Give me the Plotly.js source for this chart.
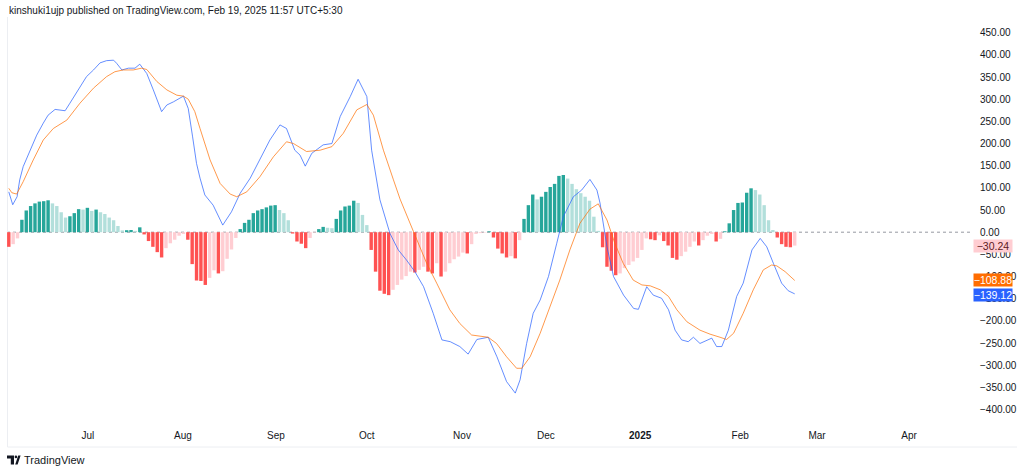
<!DOCTYPE html>
<html>
<head>
<meta charset="utf-8">
<script src="https://cdn.plot.ly/plotly-3.0.1.min.js"></script>
<style>
  html, body { margin: 0; padding: 0; background: #ffffff; }
  #chart { width: 1024px; height: 472px; }
</style>
</head>
<body>
<div id="chart"></div>
<script>
// ---- Data (daily bars, index 0 = first bar) ----
const histogram = [
  -33, -27, -14, 28, 49, 59, 65, 69, 70, 72,
  65, 59, 45, 33, 36, 43, 52, 51, 55, 48,
  51, 45, 41, 33, 27, 14, 4, 4.5, 5, 3,
  11, -5, -20, -33, -45, -57, -36, -25, -17, -8,
  -4, -17, -72, -109, -110, -119, -103, -86, -93, -88,
  -60, -39, -13, 7, 21, 28, 43, 49, 52, 56,
  60, 61, 50, 43, 27, -3, -21, -26, -36, -13,
  -1, 7, 12, 10, 9, 30, 49, 58, 60, 71,
  66, 39, 16, -40, -89, -132, -139, -142, -130, -119,
  -107, -99, -89, -91, -85, -78, -89, -93, -70, -100,
  -89, -70, -61, -55, -46, -48, -27, -4, -2, -1,
  2, -12, -37, -48, -57, -54, -59, -18, 30, 61,
  85, 74, 80, 91, 102, 109, 127, 129, 121, 109,
  97, 88, 80, 71, 35, 3, -34, -78, -87, -97,
  -93, -81, -74, -66, -58, -40, -14, -16, -18, -7,
  -20, -30, -58, -62, -54, -44, -33, -21, -30, -18,
  -8, -4, -21, -15, 2, 20, 50, 66, 67, 89,
  99, 95, 85, 61, 27, 5, -12, -27, -33, -34,
  -30.24
];

const macdX = [0, 0.9, 1.9, 2.5, 3.3, 4.9, 6.4, 7.9, 9.0, 10.6, 12.9, 14.0, 15.9, 17.8, 19.4, 20.9, 22.4, 24.0, 24.7, 25.9,
  27.4, 28.9, 30.0, 31.6, 33.1, 35.0, 36.2, 37.7, 40.0, 41.1, 42.1, 43.0, 43.8, 44.9, 46.8, 49.0, 51.0, 53.0, 55.3, 57.5,
  59.8, 62.1, 63.6, 65.5, 66.7, 67.9, 69.4, 72.0, 74.0, 75.9, 78.2, 80.0, 82.0, 83.1, 85.0, 87.3, 89.2, 91.1, 93.0, 95.0,
  97.2, 99.2, 101.1, 103.3, 105.2, 107.2, 109.8, 111.8, 114.0, 116.0, 117.1, 118.6, 120.1, 121.7, 123.6, 125.5, 127.0, 129.3, 131.2, 133.1,
  134.7, 135.4, 137.0, 138.5, 140.8, 143.1, 144.2, 146.1, 147.6, 149.5, 151.1, 152.6, 154.1, 155.6, 156.8, 158.3, 159.8, 161.0, 162.1, 163.3,
  164.8, 166.7, 168.2, 170.2, 172.1, 173.6, 175.1, 177.0, 178.5, 180];
const macdY = [91, 62, 80, 118, 148, 185, 219, 246, 264, 277, 274, 291, 322, 351, 366, 382, 387, 388, 381, 366,
  370, 370, 379, 358, 321, 272, 287, 294, 307, 279, 215, 155, 122, 84, 61, 16, 46, 88, 122, 163,
  208, 242, 234, 185, 174, 149, 178, 197, 200, 261, 306, 345, 306, 185, 73, -3, -40, -63, -89, -123,
  -183, -243, -247, -258, -275, -242, -237, -281, -337, -363, -333, -251, -183, -153, -100, -25, 35, 80, 95, 119,
  95, 66, -33, -100, -142, -172, -174, -123, -142, -149, -175, -221, -243, -247, -237, -251, -245, -239, -258, -258,
  -221, -145, -115, -40, -14, -33, -70, -115, -132, -139.12];

const signalX = [0, 0.7, 1.8, 3.3, 5.6, 7.9, 10.2, 13.3, 16.3, 19.4, 22.4, 24.3, 26.2, 28.5, 30.4, 31.6, 33.9, 36.2, 38.5, 40.0,
  41.1, 42.6, 43.8, 46.1, 48.4, 50.7, 52.2, 54.5, 57.5, 60.6, 63.6, 65.2, 68.2, 71.3, 74.0, 76.6, 79.7, 82.0, 83.5, 85.8,
  88.1, 89.6, 92.7, 95.7, 98.0, 101.0, 103.3, 106.0, 109.8, 111.7, 114.0, 116.3, 117.5, 119.4, 121.7, 124.0, 126.2, 128.5, 130.8, 133.1,
  135.0, 137.0, 138.8, 140.7, 143.0, 145.0, 146.9, 149.2, 151.1, 153.0, 155.3, 158.3, 160.6, 162.9, 164.4, 166.0, 168.2, 170.5, 172.8, 174.7,
  175.9, 177.8, 180];
const signalY = [99, 89, 86, 114, 163, 208, 234, 253, 291, 325, 351, 362, 366, 366, 370, 367, 340, 321, 309, 307,
  300, 272, 234, 163, 110, 86, 80, 91, 125, 170, 204, 200, 182, 185, 193, 223, 276, 288, 264, 185,
  118, 75, 1, -70, -115, -175, -206, -232, -237, -251, -281, -307, -307, -281, -228, -168, -108, -40, 20, 52,
  64, 27.5, -25, -70, -108, -119, -121, -130, -145, -175, -202, -221, -230, -237, -242, -228, -183, -130, -85, -74,
  -76, -89, -108.88];

const tickPositions = [18.1, 39.9, 61.2, 82.0, 103.8, 123.0, 144.6, 167.5, 185.1, 206.2];
const tickLabels = ["Jul", "Aug", "Sep", "Oct", "Nov", "Dec", "<b>2025</b>", "Feb", "Mar", "Apr"];

const lastValues = { hist: -30.24, signal: -108.88, macd: -139.12 };

// ---- Styling ----
const FONT = "'Liberation Sans Narrow', 'Arial Narrow', 'Liberation Sans', Arial, sans-serif";
const TEXT = "#131722";

function barColor(v, prev) {
  if (v >= 0) return v >= prev ? "#26A69A" : "#B2DFDB";
  return v >= prev ? "#FFCDD2" : "#FF5252";
}
const barColors = histogram.map((v, i) => barColor(v, i === 0 ? Infinity : histogram[i - 1]));

const traces = [
  {
    type: "bar",
    x: histogram.map((_, i) => i),
    y: histogram,
    width: 0.78,
    marker: { color: barColors, line: { width: 0 } },
    hoverinfo: "skip"
  },
  {
    type: "scatter", mode: "lines",
    x: macdX, y: macdY,
    line: { color: "#2962FF", width: 1 },
    opacity: 0.72,
    hoverinfo: "skip"
  },
  {
    type: "scatter", mode: "lines",
    x: signalX, y: signalY,
    line: { color: "#FF6D00", width: 1 },
    opacity: 0.7,
    hoverinfo: "skip"
  }
];

// pixel -> paper helpers (plot area: x 7..972, y 20..424)
const PL = 7, PR = 972, PT = 20, PB = 424;
const px = (x) => (x - PL) / (PR - PL);
const py = (y) => (PB - y) / (PB - PT);

const logoPath =
  `M ${px(7)} ${py(455.5)} L ${px(14)} ${py(455.5)} L ${px(14)} ${py(464.5)} L ${px(10.8)} ${py(464.5)} ` +
  `L ${px(10.8)} ${py(458.6)} L ${px(7)} ${py(458.6)} Z ` +
  `M ${px(15.2)} ${py(464.5)} L ${px(17.6)} ${py(464.5)} L ${px(20.6)} ${py(455.5)} L ${px(18.2)} ${py(455.5)} Z`;

function priceLabel(value, bg, color, yshift) {
  return {
    xref: "paper", yref: "y", x: 1, xshift: 1, y: value, yshift: yshift || 0,
    xanchor: "left", yanchor: "middle", showarrow: false,
    text: "\u2212" + Math.abs(value).toFixed(2),
    bgcolor: bg, borderpad: 0, width: 38, height: 12, align: "center", valign: "middle",
    font: { family: FONT, size: 10.5, color: color }
  };
}

const layout = {
  width: 1024, height: 472,
  margin: { l: PL, r: 1024 - PR, t: PT, b: 472 - PB, pad: 0 },
  paper_bgcolor: "#ffffff",
  plot_bgcolor: "#ffffff",
  showlegend: false,
  font: { family: FONT, size: 10, color: TEXT },
  xaxis: {
    range: [-0.41, 220.6],
    tickmode: "array", tickvals: tickPositions, ticktext: tickLabels,
    showgrid: false, zeroline: false, showline: false, ticks: "",
    tickfont: { family: FONT, size: 10, color: TEXT },
    ticklabelstandoff: 4,
    fixedrange: true
  },
  yaxis: {
    side: "right",
    range: [-432.7, 478.7],
    tick0: 0, dtick: 50,
    tickformat: ".2f",
    showgrid: false, zeroline: false, showline: false, ticks: "",
    tickfont: { family: FONT, size: 10, color: TEXT },
    ticklabelstandoff: 7,
    fixedrange: true
  },
  shapes: [
    { type: "line", xref: "paper", yref: "y", x0: 0, x1: 1, y0: 0, y1: 0, layer: "below",
      line: { color: "#9598a1", width: 1, dash: "3px,3px" } },
    { type: "line", xref: "paper", yref: "paper", x0: px(7.5), x1: px(7.5), y0: py(17), y1: py(447), layer: "below",
      line: { color: "#eceef2", width: 1 } },
    { type: "line", xref: "paper", yref: "paper", x0: px(7.5), x1: px(1017), y0: py(447), y1: py(447), layer: "below",
      line: { color: "#eceef2", width: 1 } },
    { type: "path", xref: "paper", yref: "paper", path: logoPath, fillcolor: TEXT, line: { width: 0 } },
    { type: "circle", xref: "paper", yref: "paper", x0: px(14.6), x1: px(17.2), y0: py(455.6), y1: py(458.2),
      fillcolor: TEXT, line: { width: 0 } }
  ],
  annotations: [
    { xref: "paper", yref: "paper", x: 0, y: py(11), xanchor: "left", yanchor: "middle", showarrow: false,
      text: "kinshuki1ujp published on TradingView.com, Feb 19, 2025 11:57 UTC+5:30",
      font: { family: FONT, size: 10, color: TEXT } },
    { xref: "paper", yref: "paper", x: px(22), y: py(460), xanchor: "left", yanchor: "middle", showarrow: false,
      text: "TradingView", font: { family: FONT, size: 11, color: TEXT } },
    priceLabel(lastValues.hist, "#FFCDD2", "#5d1a22", 0),
    priceLabel(lastValues.signal, "#FF6D00", "#ffffff", 0),
    priceLabel(lastValues.macd, "#2962FF", "#ffffff", -1)
  ]
};

Plotly.newPlot("chart", traces, layout, { staticPlot: true, displayModeBar: false });
</script>
</body>
</html>
